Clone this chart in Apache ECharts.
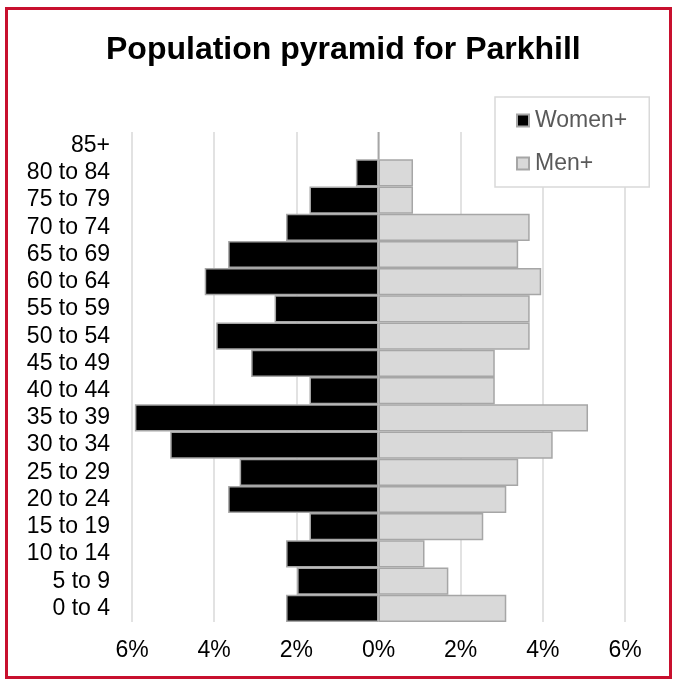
<!DOCTYPE html>
<html>
<head>
    <meta charset="UTF-8">
    <title>Population pyramid for Parkhill</title>
    <script src="https://cdn.jsdelivr.net/npm/echarts@6/dist/echarts.min.js"></script>
    <style>
        html, body { margin: 0; padding: 0; background: #fff; }
        #frame {
            position: absolute; left: 5px; top: 7px;
            width: 667px; height: 672px;
            border: 3px solid #c8102e;
            box-sizing: border-box;
        }
        #container { position: absolute; left: 0; top: 0; width: 673px; height: 679px; }
    </style>
</head>
<body>
    <div id="frame"></div>
    <div id="container"></div>

    <script type="text/javascript">
        // age bands, bottom to top
        var ageGroups = ['0 to 4', '5 to 9', '10 to 14', '15 to 19', '20 to 24', '25 to 29',
            '30 to 34', '35 to 39', '40 to 44', '45 to 49', '50 to 54', '55 to 59',
            '60 to 64', '65 to 69', '70 to 74', '75 to 79', '80 to 84', '85+'];
        // share of population, %
        var women = [2.25, 1.98, 2.25, 1.68, 3.66, 3.38, 5.07, 5.93, 1.68, 3.1, 3.95, 2.53,
            4.23, 3.66, 2.25, 1.68, 0.55, 0];
        var men = [3.11, 1.7, 1.12, 2.55, 3.11, 3.4, 4.24, 5.1, 2.83, 2.83, 3.68, 3.68,
            3.96, 3.4, 3.68, 0.84, 0.84, 0];

        var chart = echarts.init(document.getElementById('container'));
        var font = "'Liberation Sans', Arial, sans-serif";

        var option = {
            animation: false,
            title: {
                text: 'Population pyramid for Parkhill',
                left: 101,
                top: 29,
                textStyle: { fontFamily: font, fontSize: 32, fontWeight: 'bold', color: '#000' }
            },
            legend: {
                orient: 'vertical',
                left: 495,
                top: 97,
                padding: [12, 22, 12, 21],
                itemGap: 20,
                itemWidth: 12,
                itemHeight: 12,
                icon: 'rect',
                borderColor: '#d9d9d9',
                borderWidth: 1.5,
                backgroundColor: '#fff',
                textStyle: { fontFamily: font, fontSize: 23, color: '#595959', padding: [0, 0, 0, 1] },
                data: ['Women+', 'Men+']
            },
            grid: { left: 132, right: 48, top: 132, height: 490, containLabel: false },
            xAxis: {
                type: 'value',
                min: -6,
                max: 6,
                interval: 2,
                axisLine: { show: false },
                axisTick: { show: false },
                splitLine: { lineStyle: { color: '#d9d9d9', width: 1.5 } },
                axisLabel: {
                    margin: 17,
                    fontFamily: font, fontSize: 23, color: '#000',
                    formatter: function (v) { return Math.abs(v) + '%'; }
                }
            },
            yAxis: {
                type: 'category',
                data: ageGroups,
                axisLine: { show: false },
                axisTick: { show: false },
                axisLabel: { interval: 0, margin: 22, fontFamily: font, fontSize: 23, color: '#000' }
            },
            series: [
                {
                    name: 'Women+',
                    type: 'bar',
                    stack: 'pop',
                    barCategoryGap: 0,
                    data: women.map(function (v) { return -v; }),
                    itemStyle: { color: '#000', borderColor: '#a6a6a6', borderWidth: 1.5 }
                },
                {
                    name: 'Men+',
                    type: 'bar',
                    stack: 'pop',
                    barCategoryGap: 0,
                    data: men,
                    itemStyle: { color: '#d9d9d9', borderColor: '#a6a6a6', borderWidth: 1.5 }
                }
            ]
        };
        chart.setOption(option);
    </script>
</body>
</html>
